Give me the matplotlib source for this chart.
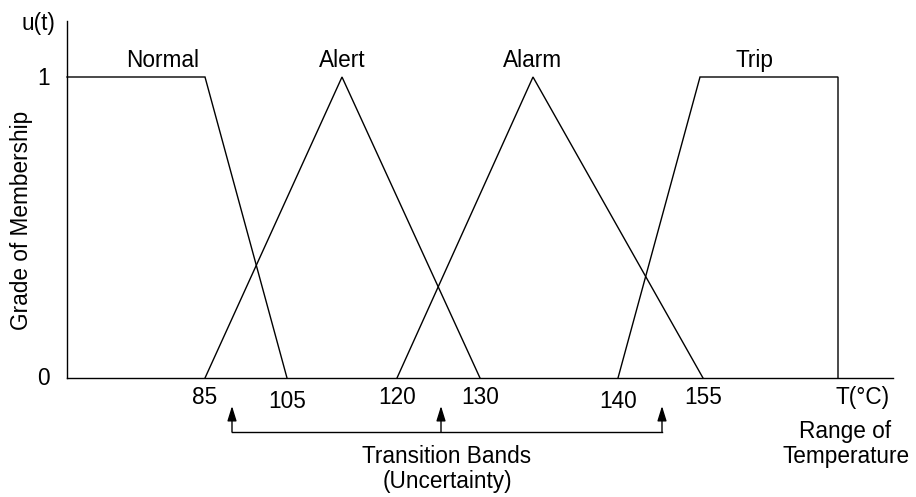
import numpy as np
import matplotlib.pyplot as plt

plt.rcParams['font.family'] = ['Liberation Sans', 'DejaVu Sans']

# schematic x positions (axis is not to scale), membership 0..1
normal_x = [67, 205, 287]
normal_u = [1, 1, 0]
alert_x = [205, 342, 480]
alert_u = [0, 1, 0]
alarm_x = [397, 533, 703]
alarm_u = [0, 1, 0]
trip_x = [618, 700, 838, 838]
trip_u = [0, 1, 1, 0]

set_names = ["Normal", "Alert", "Alarm", "Trip"]
set_label_x = [163, 342, 533, 755]

tick_labels = ["85", "105", "120", "130", "140", "155"]
tick_x = [205, 287, 397, 480, 618, 703]
tick_base = [404, 408, 404, 404, 408, 404]

arrow_x = [232, 441, 662]


def u(ypix):
    # convert reference pixel row to membership units
    return (378 - ypix) / 301.0


fig = plt.figure(figsize=(9.16, 4.97), dpi=100)
ax = fig.add_axes([0, 0, 1, 1])
ax.set_xlim(0, 916)
ax.set_ylim(u(497), u(0))
ax.axis("off")

lw = 1.0
fs = 16.3

# axes
ax.plot([67, 67], [0, u(21)], color="black", lw=lw)
ax.plot([67, 893], [0, 0], color="black", lw=lw)

for xs, us in [(normal_x, normal_u), (alert_x, alert_u), (alarm_x, alarm_u), (trip_x, trip_u)]:
    ax.plot(xs, us, color="black", lw=lw, solid_joinstyle="miter")

for name, x in zip(set_names, set_label_x):
    ax.text(x, u(67), name, ha="center", va="baseline", fontsize=fs)

for lab, x, b in zip(tick_labels, tick_x, tick_base):
    ax.text(x, u(b), lab, ha="center", va="baseline", fontsize=fs)

ax.text(44, u(85), "1", ha="center", va="baseline", fontsize=fs)
ax.text(43, u(385), "0", ha="center", va="baseline", fontsize=fs)
ax.text(38, u(30), "u(t)", ha="center", va="baseline", fontsize=fs)
ax.text(22, u(220), "Grade of Membership", rotation=90, ha="center", va="center", fontsize=fs)

ax.text(863, u(404), "T(°C)", ha="center", va="baseline", fontsize=fs)
ax.text(845, u(438), "Range of", ha="center", va="baseline", fontsize=fs)
ax.text(846, u(463), "Temperature", ha="center", va="baseline", fontsize=fs)

# transition band arrows
ax.plot([arrow_x[0], arrow_x[-1]], [u(432), u(432)], color="black", lw=lw)
for x in arrow_x:
    ax.annotate("", xy=(x, u(406)), xytext=(x, u(432)),
                arrowprops=dict(arrowstyle="-|>,head_length=0.9,head_width=0.28",
                                color="black", lw=lw, shrinkA=0, shrinkB=0))

ax.text(447, u(463), "Transition Bands", ha="center", va="baseline", fontsize=fs)
ax.text(447, u(488), "(Uncertainty)", ha="center", va="baseline", fontsize=fs)

fig.savefig("out.png", dpi=100)
